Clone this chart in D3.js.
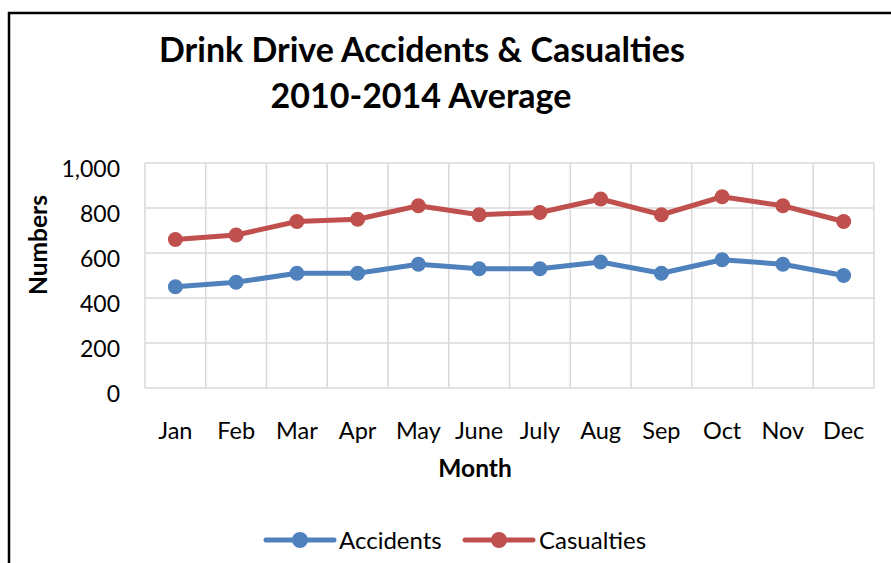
<!DOCTYPE html>
<html><head><meta charset="utf-8">
<script src="https://cdn.jsdelivr.net/npm/d3@7/dist/d3.min.js"></script>
<style>body{margin:0;background:#fff}svg{display:block}</style>
</head><body>
<script>
const months = ["Jan","Feb","Mar","Apr","May","June","July","Aug","Sep","Oct","Nov","Dec"];
const accidents = [450,470,510,510,550,530,530,560,510,570,550,500];
const casualties = [660,680,740,750,810,770,780,840,770,850,810,740];
const yTicks = [0,200,400,600,800,1000];
const seriesNames = ["Accidents","Casualties"];
const colors = ["#4F81BD","#C0504D"];
const series = [accidents, casualties];

const W=891,H=563;
const font = "Lato, 'Open Sans', sans-serif";
const svg = d3.select("body").append("svg").attr("width",W).attr("height",H);
svg.append("rect").attr("x",9).attr("y",13).attr("width",W+20).attr("height",H+20)
  .attr("fill","#fff").attr("stroke","#000").attr("stroke-width",2.5);

const L=145,T=163,R=874,B=388;
const x = d3.scaleBand().domain(months).range([L,R]);
const y = d3.scaleLinear().domain([0,1000]).range([B,T]);

const g = svg.append("g");
g.selectAll(".hg").data(yTicks).join("line")
  .attr("x1",L).attr("x2",R).attr("y1",d=>y(d)).attr("y2",d=>y(d))
  .attr("stroke","#D9D9D9").attr("stroke-width",1.5);
const bounds = months.map(m=>x(m)).concat([R]);
g.selectAll(".vg").data(bounds).join("line")
  .attr("x1",d=>d).attr("x2",d=>d).attr("y1",T).attr("y2",B)
  .attr("stroke","#D9D9D9").attr("stroke-width",1.5);

g.selectAll(".yt").data(yTicks).join("text")
  .attr("x",120).attr("y",d=>y(d)+6).attr("dy","0.36em").attr("text-anchor","end")
  .attr("font-family",font).attr("font-size",23).text(d=>d3.format(",")(d));
g.selectAll(".xt").data(months).join("text")
  .attr("x",d=>x(d)+x.bandwidth()/2).attr("y",439).attr("text-anchor","middle")
  .attr("font-family",font).attr("font-size",23.5).text(d=>d);

svg.append("text").attr("x",475).attr("y",477).attr("text-anchor","middle")
  .attr("font-family",font).attr("font-weight","bold").attr("font-size",24.5).text("Month");
svg.append("text").attr("transform","translate(47,245) rotate(-90)").attr("text-anchor","middle")
  .attr("font-family",font).attr("font-weight","bold").attr("font-size",24.5).text("Numbers");

svg.append("text").attr("x",422).attr("y",62).attr("text-anchor","middle")
  .attr("font-family",font).attr("font-weight","bold").attr("font-size",34).text("Drink Drive Accidents & Casualties");
svg.append("text").attr("x",421).attr("y",108).attr("text-anchor","middle")
  .attr("font-family",font).attr("font-weight","bold").attr("font-size",34).text("2010-2014 Average");

const line = d3.line().x((d,i)=>x(months[i])+x.bandwidth()/2).y(d=>y(d));
series.forEach((s,k)=>{
  g.append("path").datum(s).attr("d",line).attr("fill","none")
    .attr("stroke",colors[k]).attr("stroke-width",5).attr("stroke-linejoin","round").attr("stroke-linecap","round");
  g.selectAll(".pt"+k).data(s).join("circle")
    .attr("cx",(d,i)=>x(months[i])+x.bandwidth()/2).attr("cy",d=>y(d)).attr("r",7.5).attr("fill",colors[k]);
});

const leg = [{x0:266,tx:339},{x0:465,tx:539}];
seriesNames.forEach((n,k)=>{
  const lg = svg.append("g");
  lg.append("line").attr("x1",leg[k].x0).attr("x2",leg[k].x0+68).attr("y1",540).attr("y2",540)
    .attr("stroke",colors[k]).attr("stroke-width",5).attr("stroke-linecap","round");
  lg.append("circle").attr("cx",leg[k].x0+34).attr("cy",540).attr("r",8).attr("fill",colors[k]);
  lg.append("text").attr("x",leg[k].tx).attr("y",540).attr("dy","0.36em")
    .attr("font-family",font).attr("font-size",24).text(n);
});
</script>
</body></html>
